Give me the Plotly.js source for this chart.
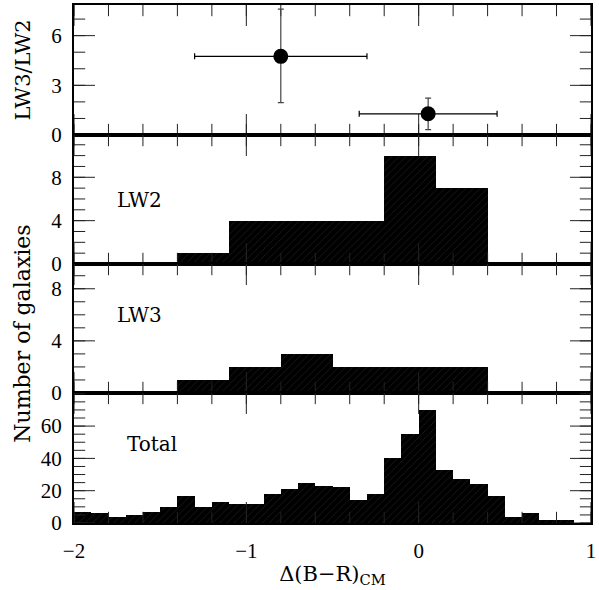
<!DOCTYPE html>
<html>
<head>
<meta charset="utf-8">
<script src="https://cdn.plot.ly/plotly-3.0.1.min.js"></script>
<style>body{margin:0;padding:0;background:#fff;}#chart{width:599px;height:590px;}</style>
</head>
<body>
<div id="chart"></div>
<script>
// ---- Data ----
// Top panel: LW3/LW2 ratio points
const ratioX = [-0.80, 0.055];
const ratioY = [4.75, 1.28];
const ratioXErr = [0.50, 0.40];
const ratioYErrPlus = [2.85, 0.95];
const ratioYErrMinus = [2.80, 0.96];

// LW2 histogram (bin edges and counts)
const lw2Edges = [-1.4, -1.1, -0.8, -0.5, -0.2, 0.1, 0.4];
const lw2Counts = [1, 4, 4, 4, 10, 7];

// LW3 histogram
const lw3Edges = [-1.4, -1.1, -0.8, -0.5, -0.2, 0.1, 0.4];
const lw3Counts = [1, 2, 3, 2, 2, 2];

// Total histogram (0.1 bins from -2.0 to 0.9)
const totEdges = [-2.0,-1.9,-1.8,-1.7,-1.6,-1.5,-1.4,-1.3,-1.2,-1.1,-1.0,-0.9,-0.8,-0.7,-0.6,-0.5,-0.4,-0.3,-0.2,-0.1,0.0,0.1,0.2,0.3,0.4,0.5,0.6,0.7,0.8,0.9];
const totCounts = [7,6,4,5,7,10,17,10,13,12,12,18,21,25,23,22,14,18,40,55,70,33,27,24,17,4,6,2,2];

const panelLabels = ["LW2", "LW3", "Total"];
const xTickVals = [-2, -1, 0, 1];
const ratioTicks = [0, 3, 6];
const countTicks = [0, 4, 8];
const totalTicks = [0, 20, 40, 60];

// ---- Helpers ----
function centers(e){ const c=[]; for(let i=0;i<e.length-1;i++) c.push((e[i]+e[i+1])/2); return c; }
function widths(e){ const w=[]; for(let i=0;i<e.length-1;i++) w.push(e[i+1]-e[i]); return w; }
function steps(a, b, s){ const o=[]; const n=Math.round((b-a)/s); for(let i=0;i<=n;i++) o.push(+(a+i*s).toFixed(6)); return o; }

const FONT = "Liberation Serif, DejaVu Serif, serif";
const TFONT = "DejaVu Serif, serif";
const TICKC = '#222';
const hatch = {shape:'/', fillmode:'replace', bgcolor:'#000', fgcolor:'#262626', size:5, solidity:0.12};

const XR = [-2, 1];
const D1=[0.749,1.0], D2=[0.5,0.749], D3=[0.251,0.5], D4=[0,0.251];
const R1=[0,7.85], R2=[0,11.9], R3=[0,9.9], R4=[0,80.5];

function barTrace(edges, counts, xa, ya){
  return {type:'bar', x:centers(edges), y:counts, width:widths(edges), xaxis:xa, yaxis:ya,
    marker:{color:'#000', line:{width:0}, pattern:hatch}, hoverinfo:'skip', showlegend:false};
}

// Tick marks drawn as line markers on the frame edges (clipped to the panel so only the inner half shows)
function tickMarks(xa, ya, yr, yMajor, yMinor){
  const out = [];
  const xMinor = steps(XR[0], XR[1], 0.2);
  const addX = (vals, size) => {
    const xs=[], ys=[];
    vals.forEach(v => { xs.push(v, v); ys.push(yr[0], yr[1]); });
    out.push({type:'scatter', mode:'markers', x:xs, y:ys, xaxis:xa, yaxis:ya, cliponaxis:true,
      marker:{symbol:'line-ns', size:size, line:{width:1, color:TICKC}}, hoverinfo:'skip', showlegend:false});
  };
  const addY = (vals, size) => {
    const xs=[], ys=[];
    vals.forEach(v => { xs.push(XR[0], XR[1]); ys.push(v, v); });
    out.push({type:'scatter', mode:'markers', x:xs, y:ys, xaxis:xa, yaxis:ya, cliponaxis:true,
      marker:{symbol:'line-ew', size:size, line:{width:1, color:TICKC}}, hoverinfo:'skip', showlegend:false});
  };
  addX(xMinor, 16);
  addX(xTickVals, 30);
  addY(yMinor, 16);
  addY(yMajor, 30);
  return out;
}

const traces = [
  barTrace(lw2Edges, lw2Counts, 'x2', 'y2'),
  barTrace(lw3Edges, lw3Counts, 'x3', 'y3'),
  barTrace(totEdges, totCounts, 'x4', 'y4'),
  ...tickMarks('x',  'y',  R1, ratioTicks, steps(0, 7, 1)),
  ...tickMarks('x2', 'y2', R2, countTicks, steps(0, 11, 1)),
  ...tickMarks('x3', 'y3', R3, countTicks, steps(0, 9, 1)),
  ...tickMarks('x4', 'y4', R4, totalTicks, steps(0, 80, 5)),
  {type:'scatter', mode:'markers', x:ratioX, y:ratioY, xaxis:'x', yaxis:'y',
   marker:{color:'#000', size:15},
   error_x:{type:'data', array:ratioXErr, color:'#000', thickness:1.2, width:3},
   error_y:{type:'data', symmetric:false, array:ratioYErrPlus, arrayminus:ratioYErrMinus, color:'#444', thickness:1.2, width:3},
   showlegend:false, hoverinfo:'skip'}
];

function xAxis(anchor, showLabels){
  return {range:XR, anchor:anchor, showgrid:false, zeroline:false,
    showline:true, linecolor:'#000', linewidth:2, mirror:true,
    ticks:'', tickmode:'array', tickvals:xTickVals,
    showticklabels:showLabels, ticklabelstandoff:8,
    tickfont:{family:FONT, size:21, color:'#000'}, fixedrange:true};
}
function yAxis(domain, range, tickvals, anchor){
  return {domain:domain, range:range, anchor:anchor, showgrid:false, zeroline:false,
    showline:true, linecolor:'#000', linewidth:2, mirror:true,
    ticks:'', tickmode:'array', tickvals:tickvals,
    ticklabelstandoff:6,
    tickfont:{family:FONT, size:21, color:'#000'}, fixedrange:true};
}

const layout = {
  width:599, height:590,
  margin:{l:74, r:8, t:5, b:67},
  paper_bgcolor:'#fff', plot_bgcolor:'#fff',
  bargap:0,
  showlegend:false,
  xaxis: xAxis('y', false),
  xaxis2: xAxis('y2', false),
  xaxis3: xAxis('y3', false),
  xaxis4: Object.assign(xAxis('y4', true), {title:{text:'Δ(B−R)<sub>CM</sub>', font:{family:TFONT, size:21, color:'#000'}, standoff:4}}),
  yaxis: yAxis(D1, R1, ratioTicks, 'x'),
  yaxis2: yAxis(D2, R2, countTicks, 'x2'),
  yaxis3: yAxis(D3, R3, countTicks, 'x3'),
  yaxis4: yAxis(D4, R4, totalTicks, 'x4'),
  annotations: [
    {xref:'x2', yref:'y2', x:-1.62, y:5.9, text:panelLabels[0], showarrow:false, xanchor:'center', yanchor:'middle', font:{family:TFONT, size:20, color:'#000'}},
    {xref:'x3', yref:'y3', x:-1.62, y:6.0, text:panelLabels[1], showarrow:false, xanchor:'center', yanchor:'middle', font:{family:TFONT, size:20, color:'#000'}},
    {xref:'x4', yref:'y4', x:-1.55, y:49, text:panelLabels[2], showarrow:false, xanchor:'center', yanchor:'middle', font:{family:TFONT, size:20, color:'#000'}},
    {xref:'paper', yref:'paper', x:-0.099, y:0.875, text:'LW3/LW2', textangle:-90, showarrow:false, xanchor:'center', yanchor:'middle', font:{family:TFONT, size:21, color:'#000'}},
    {xref:'paper', yref:'paper', x:-0.099, y:0.365, text:'Number of galaxies', textangle:-90, showarrow:false, xanchor:'center', yanchor:'middle', font:{family:TFONT, size:22, color:'#000'}}
  ]
};

Plotly.newPlot('chart', traces, layout, {staticPlot:true, displayModeBar:false});
</script>
</body>
</html>
